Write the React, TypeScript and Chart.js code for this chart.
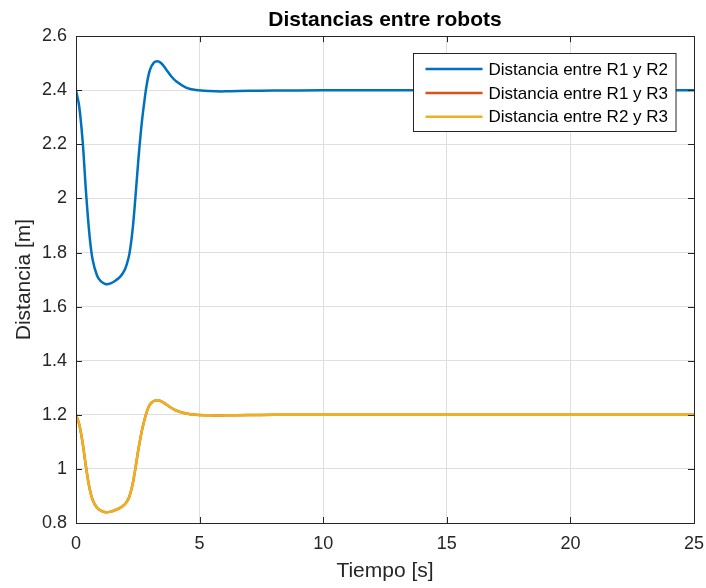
import React, { useEffect, useRef } from 'react';
import { Chart, registerables } from 'chart.js';

Chart.register(...registerables);

const timeS = [0, 0.13, 0.27, 0.4, 0.54, 0.67, 0.85, 1.0, 1.21, 1.4, 1.62, 1.8, 1.95, 2.05, 2.16, 2.29, 2.4, 2.52, 2.65, 2.76, 2.86, 2.99, 3.15, 3.3, 3.45, 3.64, 3.85, 4.05, 4.45, 4.85, 5.4, 6.0, 7.0, 8.0, 10, 12.5, 15, 20, 25];
const distR1R2 = [2.4, 2.34, 2.21, 2.03, 1.87, 1.775, 1.715, 1.694, 1.683, 1.686, 1.698, 1.712, 1.732, 1.755, 1.795, 1.885, 2.0, 2.14, 2.27, 2.355, 2.42, 2.475, 2.502, 2.507, 2.5, 2.478, 2.452, 2.433, 2.41, 2.401, 2.397, 2.396, 2.398, 2.399, 2.4, 2.4, 2.4, 2.4, 2.4];
const distR1R3 = [1.2, 1.165, 1.095, 1.01, 0.932, 0.886, 0.856, 0.846, 0.84, 0.842, 0.849, 0.857, 0.867, 0.878, 0.898, 0.943, 1.0, 1.07, 1.135, 1.178, 1.21, 1.238, 1.251, 1.254, 1.25, 1.239, 1.226, 1.216, 1.205, 1.2, 1.198, 1.198, 1.199, 1.2, 1.2, 1.2, 1.2, 1.2, 1.2];
const distR2R3 = [1.2, 1.165, 1.095, 1.01, 0.932, 0.886, 0.856, 0.846, 0.84, 0.842, 0.849, 0.857, 0.867, 0.878, 0.898, 0.943, 1.0, 1.07, 1.135, 1.178, 1.21, 1.238, 1.251, 1.254, 1.25, 1.239, 1.226, 1.216, 1.205, 1.2, 1.198, 1.198, 1.199, 1.2, 1.2, 1.2, 1.2, 1.2, 1.2];
const seriesLabels = ['Distancia entre R1 y R2', 'Distancia entre R1 y R3', 'Distancia entre R2 y R3'];
const seriesColors = ['#0072BD', '#D95319', '#EDB120'];
const xTickValues = [0, 5, 10, 15, 20, 25];
const xTickLabels = ['0', '5', '10', '15', '20', '25'];
const yTickValues = [0.8, 1, 1.2, 1.4, 1.6, 1.8, 2, 2.2, 2.4, 2.6];
const yTickLabels = ['0.8', '1', '1.2', '1.4', '1.6', '1.8', '2', '2.2', '2.4', '2.6'];

const FONT = '"Liberation Sans", Arial, Helvetica, sans-serif';
const AXIS_COLOR = '#262626';
const GRID_COLOR = '#dfdfdf';

const framePlugin = {
  id: 'matlabFrame',
  afterDraw(chart: any) {
    const { ctx, chartArea } = chart;
    const { left, right, top, bottom } = chartArea;
    const xs = chart.scales.x;
    const ys = chart.scales.y;
    ctx.save();
    ctx.strokeStyle = AXIS_COLOR;
    ctx.lineWidth = 1;
    const tl = 6;
    ctx.beginPath();
    xTickValues.forEach((v) => {
      const px = Math.round(xs.getPixelForValue(v)) + 0.5;
      ctx.moveTo(px, bottom);
      ctx.lineTo(px, bottom - tl);
      ctx.moveTo(px, top);
      ctx.lineTo(px, top + tl);
    });
    yTickValues.forEach((v) => {
      const py = Math.round(ys.getPixelForValue(v)) + 0.5;
      ctx.moveTo(left, py);
      ctx.lineTo(left + tl, py);
      ctx.moveTo(right, py);
      ctx.lineTo(right - tl, py);
    });
    ctx.stroke();
    ctx.strokeRect(Math.round(left) + 0.5, Math.round(top) + 0.5, Math.round(right - left), Math.round(bottom - top));

    // legend
    const fontSize = 17;
    ctx.font = `${fontSize}px ${FONT}`;
    const labels = chart.data.datasets.map((d: any) => d.label);
    const maxW = Math.max(...labels.map((l: string) => ctx.measureText(l).width));
    const padL = 12, lineLen = 57, gap = 6, padR = 8, rowH = 23.8;
    const w = padL + lineLen + gap + maxW + padR;
    const h = 78;
    const bx = Math.round(right - 18.6 - w) + 0.5;
    const by = Math.round(top + 17) + 0.5;
    ctx.fillStyle = '#ffffff';
    ctx.fillRect(bx, by, w, h);
    ctx.strokeStyle = AXIS_COLOR;
    ctx.lineWidth = 1;
    ctx.strokeRect(bx, by, w, h);
    ctx.textBaseline = 'middle';
    ctx.textAlign = 'left';
    chart.data.datasets.forEach((d: any, i: number) => {
      const cy = by + 15.6 + i * rowH;
      ctx.strokeStyle = d.borderColor;
      ctx.lineWidth = 2.5;
      ctx.beginPath();
      ctx.moveTo(bx + padL, cy);
      ctx.lineTo(bx + padL + lineLen, cy);
      ctx.stroke();
      ctx.fillStyle = '#000000';
      ctx.fillText(d.label, bx + padL + lineLen + gap, cy + 1);
    });
    ctx.restore();
  },
};

export default function App() {
  const canvasRef = useRef<HTMLCanvasElement | null>(null);

  useEffect(() => {
    document.body.style.margin = '0';
    const canvas = canvasRef.current;
    if (!canvas) return;
    const series = [distR1R2, distR1R3, distR2R3];
    const chart = new Chart(canvas, {
      type: 'line',
      data: {
        datasets: series.map((vals, i) => ({
          label: seriesLabels[i],
          data: timeS.map((t, j) => ({ x: t, y: vals[j] })),
          borderColor: seriesColors[i],
          backgroundColor: seriesColors[i],
          borderWidth: 2.5,
          pointRadius: 0,
          fill: false,
          tension: 0.35,
          order: 2 - i,
        })),
      },
      options: {
        responsive: false,
        animation: false,
        layout: { padding: { left: 0, right: 12, top: 0, bottom: 0 } },
        plugins: {
          legend: { display: false },
          tooltip: { enabled: false },
          title: {
            display: true,
            text: 'Distancias entre robots',
            fullSize: false,
            color: '#000000',
            font: { family: FONT, size: 21, weight: 'bold', lineHeight: 1.2 },
            padding: { top: 8, bottom: 3 },
          },
        },
        scales: {
          x: {
            type: 'linear',
            min: 0,
            max: 25,
            afterBuildTicks: (s: any) => {
              s.ticks = xTickValues.map((v) => ({ value: v }));
            },
            afterFit: (s: any) => {
              s.height = 65;
              s.paddingLeft = 0;
              s.paddingRight = 0;
            },
            ticks: {
              autoSkip: false,
              maxRotation: 0,
              padding: 10,
              color: AXIS_COLOR,
              font: { family: FONT, size: 18 },
              callback: (_v: any, i: number) => xTickLabels[i],
            },
            grid: { color: GRID_COLOR, drawTicks: false, lineWidth: 1 },
            border: { display: false },
            title: {
              display: true,
              text: 'Tiempo [s]',
              color: AXIS_COLOR,
              font: { family: FONT, size: 21, lineHeight: 1.2 },
              padding: { top: 0, bottom: 4 },
            },
          },
          y: {
            type: 'linear',
            min: 0.8,
            max: 2.6,
            afterBuildTicks: (s: any) => {
              s.ticks = yTickValues.map((v) => ({ value: v }));
            },
            afterFit: (s: any) => {
              s.width = 76;
              s.paddingTop = 0;
              s.paddingBottom = 0;
            },
            ticks: {
              autoSkip: false,
              padding: 9,
              color: AXIS_COLOR,
              font: { family: FONT, size: 18 },
              callback: (_v: any, i: number) => yTickLabels[i],
            },
            grid: { color: GRID_COLOR, drawTicks: false, lineWidth: 1 },
            border: { display: false },
            title: {
              display: true,
              text: 'Distancia [m]',
              color: AXIS_COLOR,
              font: { family: FONT, size: 21, lineHeight: 1.2 },
              padding: { top: 12, bottom: 0 },
            },
          },
        },
      },
      plugins: [framePlugin],
    } as any);
    return () => chart.destroy();
  }, []);

  return (
    <div style={{ width: 706, height: 588 }}>
      <canvas ref={canvasRef} width={706} height={588} style={{ display: 'block' }} />
    </div>
  );
}
